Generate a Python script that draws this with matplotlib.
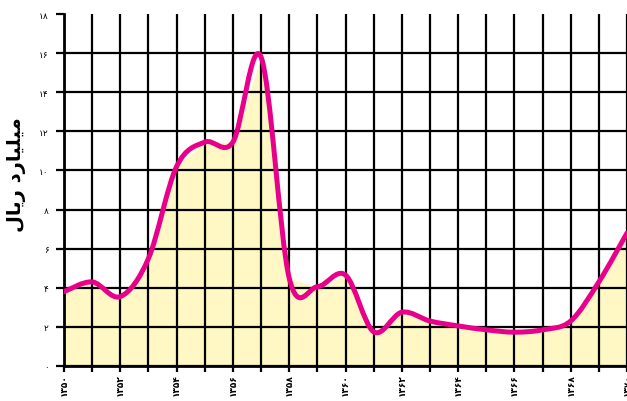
import matplotlib
matplotlib.use("Agg")
import matplotlib.pyplot as plt
from matplotlib.path import Path
from matplotlib.patches import PathPatch
import numpy as np

# data (years in the Persian calendar)
years = [1350, 1351, 1352, 1353, 1354, 1355, 1356, 1357, 1358, 1359,
         1360, 1361, 1362, 1363, 1364, 1365, 1366, 1367, 1368, 1369, 1370]
values = [3.8, 4.3, 3.55, 5.5, 10.2, 11.45, 11.45, 15.8, 4.5, 4.05,
          4.65, 1.75, 2.75, 2.3, 2.05, 1.85, 1.73, 1.85, 2.3, 4.3, 6.8]

fa = str.maketrans("0123456789", "۰۱۲۳۴۵۶۷۸۹")
x_ticks = list(range(1350, 1371, 2))
x_labels = [str(y).translate(fa) for y in x_ticks]
y_ticks = list(range(0, 19, 2))
y_labels = [str(v).translate(fa) for v in y_ticks]
# "میلیارد ریال" in presentation forms, visual order (matplotlib has no shaping)
y_title = "\uFEDD\uFE8E\uFEF3\uFEAD \uFEA9\uFEAD\uFE8E\uFEF4\uFEE0\uFEF4\uFEE3"

W, H = 627, 402
fig = plt.figure(figsize=(W / 100, H / 100), dpi=100)
ax = fig.add_axes([64 / W, 35 / H, (627 - 64) / W, 352 / H])

yellow = "#FFF8C4"
pink = "#E8008A"

# area (straight segments) under the smoothed line
ax.fill_between(years, values, 0, color=yellow, lw=0, zorder=1)

# smoothed line: Catmull-Rom through the points, drawn as cubic Bezier
pts = np.column_stack([years, values]).astype(float)
ext = np.vstack([pts[0], pts, pts[-1]])
verts = [pts[0]]
codes = [Path.MOVETO]
for i in range(1, len(ext) - 2):
    p0, p1, p2, p3 = ext[i - 1], ext[i], ext[i + 1], ext[i + 2]
    verts += [p1 + (p2 - p0) / 6, p2 - (p3 - p1) / 6, p2]
    codes += [Path.CURVE4] * 3
ax.add_patch(PathPatch(Path(verts, codes), fill=False, edgecolor=pink,
                       lw=3.6, capstyle="round", joinstyle="round", zorder=3))

ax.set_xlim(1350, 1370 - 0.04)
ax.set_ylim(0, 18)
ax.set_xticks(x_ticks)
ax.set_xticklabels(x_labels, rotation=90, fontsize=6.5, fontweight="bold",
                   family="DejaVu Sans")
ax.set_xticks(years, minor=True)
ax.set_yticks(y_ticks)
ax.set_yticklabels(y_labels, fontsize=6.5, family="DejaVu Sans")

ax.set_axisbelow(False)
ax.grid(True, which="both", axis="x", color="black", lw=1.6, zorder=2)
ax.grid(True, which="major", axis="y", color="black", lw=1.6, zorder=2)
ax.yaxis.get_gridlines()[-1].set_visible(False)

ax.tick_params(axis="x", which="both", direction="out", length=4, width=1.6, pad=1)
ax.tick_params(axis="y", direction="out", length=6, width=1.6, pad=5)
for s in ["top", "right"]:
    ax.spines[s].set_visible(False)
for s in ["left", "bottom"]:
    ax.spines[s].set_linewidth(2)

fig.text(17 / W, 1 - 175 / H, y_title, rotation=90, ha="center", va="center",
         fontsize=14, fontweight="bold", family="DejaVu Sans")

fig.savefig("out.png", dpi=100)
